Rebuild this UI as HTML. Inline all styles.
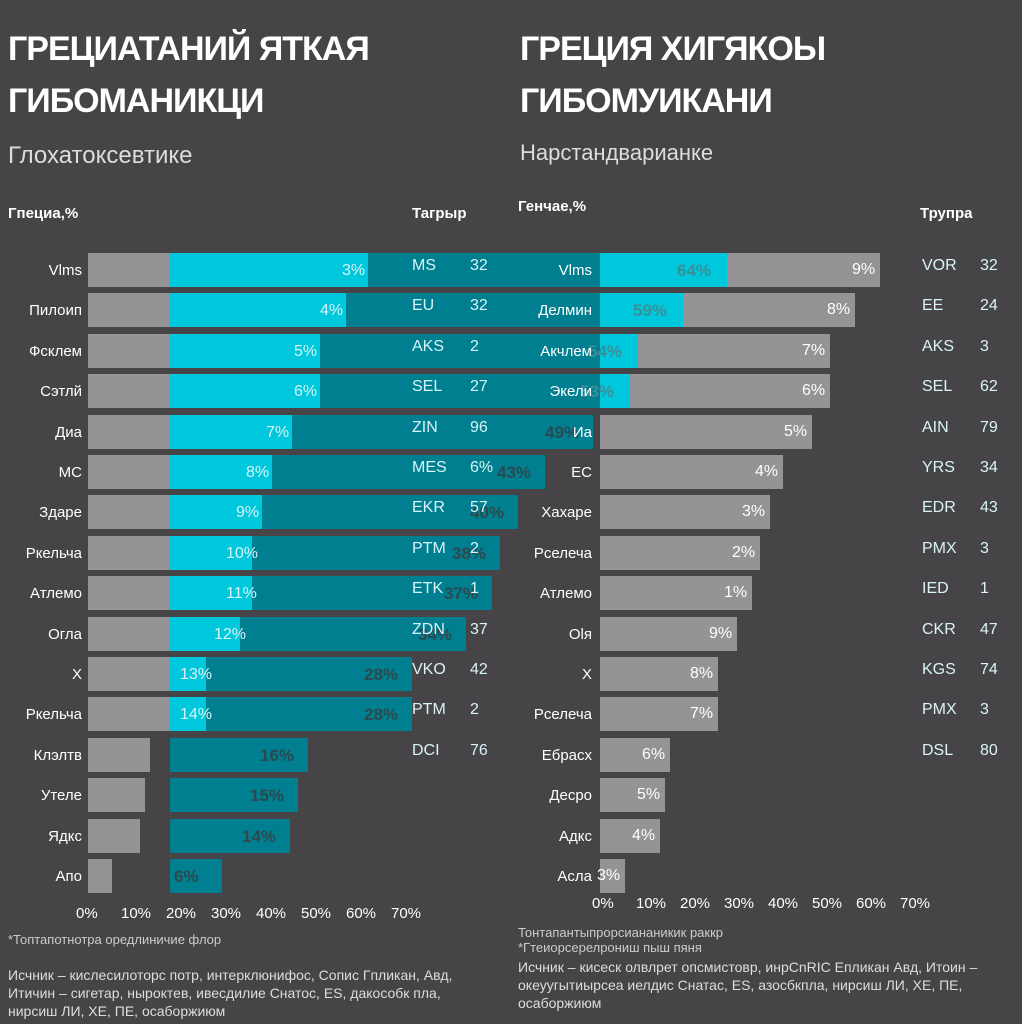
<!DOCTYPE html>
<html><head><meta charset="utf-8"><style>
body{margin:0;width:1022px;height:1024px;background:#464446;position:relative;overflow:hidden;font-family:"Liberation Sans","DejaVu Sans",sans-serif;color:#fff}
div{position:absolute}
.b{height:34px}
.g{background:#959395}.c{background:#00c8dc}.t{background:#007f90}
.l{font-size:15px;text-align:right;width:80px}
.v{font-size:17px;font-weight:bold;color:#2b4a50}
.s{font-size:16px;color:#d8f4f8}
</style></head><body>
<div style="left:8px;top:30px;font-size:34px;font-weight:bold;letter-spacing:-1px">ГРЕЦИАТАНИЙ ЯТКАЯ</div>
<div style="left:8px;top:82px;font-size:34px;font-weight:bold;letter-spacing:-1px">ГИБОМАНИКЦИ</div>
<div style="left:8px;top:142px;font-size:24px;color:#ddd">Глохатоксевтике</div>
<div style="left:520px;top:30px;font-size:34px;font-weight:bold;letter-spacing:-1px">ГРЕЦИЯ ХИГЯКОЫ</div>
<div style="left:520px;top:82px;font-size:34px;font-weight:bold;letter-spacing:-1px">ГИБОМУИКАНИ</div>
<div style="left:520px;top:140px;font-size:22px;color:#ddd">Нарстандварианке</div>
<div style="left:8px;top:205px;font-size:15px;font-weight:bold">Гпециа,%</div>
<div style="left:412px;top:205px;font-size:15px;font-weight:bold">Тагрыр</div>
<div style="left:518px;top:198px;font-size:15px;font-weight:bold">Генчае,%</div>
<div style="left:920px;top:205px;font-size:15px;font-weight:bold">Трупра</div>
<div id="rows"></div>
<div style="left:8px;top:932px;font-size:13px;color:#ccc">*Топтапотнотра оредлиничие флор</div>
<div style="left:8px;top:966px;font-size:14px;color:#ddd;width:470px;line-height:18px">Исчник – кислесилоторс потр, интерклюнифос, Сопис Гпликан, Авд, Итичин – сигетар, ныроктев, ивесдилие Снатос, ЕS, дакособк пла, нирсиш ЛИ, ХЕ, ПЕ, осаборжиюм</div>
<div style="left:518px;top:925px;font-size:13px;color:#ccc">Тонтапантыпрорсиананикик раккр<br>*Гтеиорсерелрониш пыш пяня</div>
<div style="left:518px;top:958px;font-size:14px;color:#ddd;width:470px;line-height:18px">Исчник – кисеск олвлрет опсмистовр, инрCnRIC Епликан Авд, Итоин – океуугытиырсеа иелдис Снатас, ES, азосбкпла, нирсиш ЛИ, ХЕ, ПЕ, осаборжиюм</div>
<script>
var L=["Vlms","Пилоип","Фсклем","Сэтлй","Диа","МС","Здаре","Ркельча","Атлемо","Огла","Х","Ркельча","Клэлтв","Утеле","Ядкс","Апо"];
var R=["Vlms","Делмин","Акчлем","Экели","Иа","ЕС","Хахаре","Рселеча","Атлемо","Оlя","Х","Рселеча","Ебрасх","Десро","Адкс","Асла"];
var cy=[368,346,320,320,292,272,262,252,252,240,206,206];
var te=[600,600,600,600,593,545,518,500,492,466,412,412,308,298,290,222];
var tv=["","","","","49%","43%","40%","38%","37%","34%","28%","28%","16%","15%","14%","6%"];
var gl=[170,170,170,170,170,170,170,170,170,170,170,170,150,145,140,112];
var rg=[880,855,830,830,812,783,770,760,752,737,718,718,670,665,660,625];
var rc=[727,683,638,630];var rcv=["64%","59%","54%","53%"];
var c1=["MS","EU","AKS","SEL","ZIN","MES","EKR","PTM","ETK","ZDN","VKO","PTM","DCI","DIS","KEX","AFP"];
var c2=["32","32","2","27","96","6%","57","2","1","37","42","2","76","96","25","50"];
var c3=["VOR","EE","AKS","SEL","AIN","YRS","EDR","PMX","IED","CKR","KGS","PMX","DSL","EAP","VEA","AFR"];
var c4=["32","24","3","62","79","34","43","3","1","47","74","3","80","98","39","30"];
var h="";
for(var i=0;i<16;i++){var y=253+i*40.4;
h+='<div class="b g" style="left:88px;top:'+y+'px;width:'+(gl[i]-88)+'px"></div>';
h+='<div class="b t" style="left:170px;top:'+y+'px;width:'+(te[i]-170)+'px"></div>';
if(i<12)h+='<div class="b c" style="left:170px;top:'+y+'px;width:'+(cy[i]-170)+'px"></div>';
h+='<div class="b g" style="left:600px;top:'+y+'px;width:'+(rg[i]-600)+'px"></div>';
if(i<4)h+='<div class="b c" style="left:600px;top:'+y+'px;width:'+(rc[i]-600)+'px"></div><div class="v" style="left:'+(rc[i]-50)+'px;top:'+(y+8)+'px;color:#3b8f98">'+rcv[i]+'</div>';
if(tv[i])h+='<div class="v" style="left:'+(te[i]-48)+'px;top:'+(y+8)+'px">'+tv[i]+'</div>';
h+='<div class="l" style="left:2px;top:'+(y+9)+'px">'+L[i]+'</div>';
h+='<div class="l" style="left:512px;top:'+(y+9)+'px">'+R[i]+'</div>';
if(i<12)h+='<div class="s" style="left:'+(cy[i]-26)+'px;top:'+(y+9)+'px">'+(3+i)+'%</div>';
h+='<div class="s" style="left:'+(rg[i]-28)+'px;top:'+(y+8)+'px;color:#fff">'+(9-i%9)+'%</div>';
if(i<13){h+='<div class="s" style="left:412px;top:'+(y+4)+'px">'+c1[i]+'</div><div class="s" style="left:470px;top:'+(y+4)+'px">'+c2[i]+'</div>';
h+='<div class="s" style="left:922px;top:'+(y+4)+'px">'+c3[i]+'</div><div class="s" style="left:980px;top:'+(y+4)+'px">'+c4[i]+'</div>';}
}
var tk=["0%","10%","20%","30%","40%","50%","60%","70%"];
for(var k=0;k<8;k++){h+='<div style="left:'+(76+k*45)+'px;top:905px;font-size:15px">'+tk[k]+'</div>';
h+='<div style="left:592+px;left:'+(592+k*44)+'px;top:895px;font-size:15px">'+tk[k]+'</div>';}
document.getElementById("rows").outerHTML=h;
</script>
</body></html>
